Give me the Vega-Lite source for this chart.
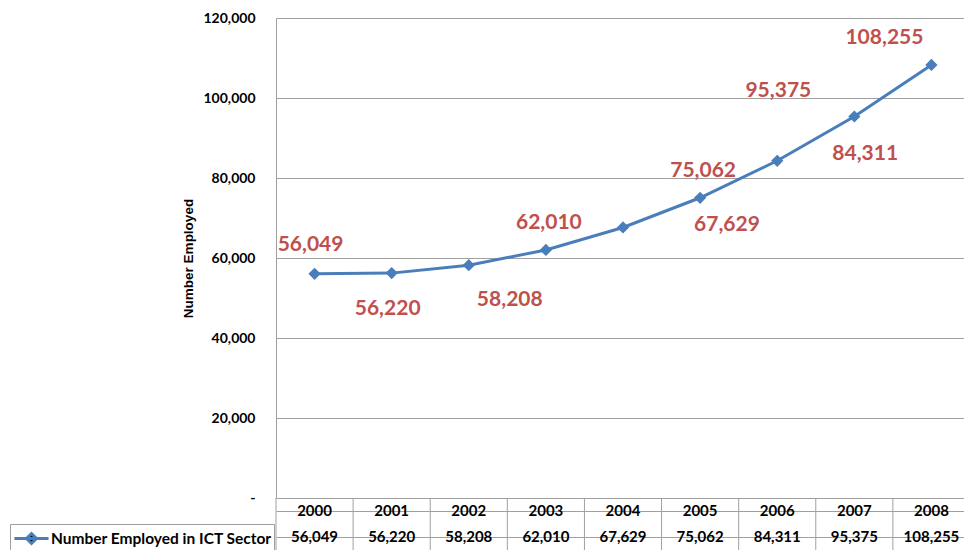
{
  "$schema": "https://vega.github.io/schema/vega-lite/v6.json",
  "background": "white",
  "padding": {"left": 9, "top": 11, "right": 0, "bottom": 0},
  "bounds": "flush",
  "datasets": {
    "ict": [
      {"year": 2000, "value": 56049},
      {"year": 2001, "value": 56220},
      {"year": 2002, "value": 58208},
      {"year": 2003, "value": 62010},
      {"year": 2004, "value": 67629},
      {"year": 2005, "value": 75062},
      {"year": 2006, "value": 84311},
      {"year": 2007, "value": 95375},
      {"year": 2008, "value": 108255}
    ]
  },
  "spacing": 0,
  "vconcat": [
    {
      "width": 694,
      "height": 480,
      "data": {"name": "ict"},
      "encoding": {
        "x": {"field": "year", "type": "ordinal", "scale": {"paddingInner": 0, "paddingOuter": 0}, "axis": null},
        "y": {
          "field": "value", "type": "quantitative",
          "scale": {"domain": [0, 120000], "nice": false},
          "axis": {
            "values": [0, 20000, 40000, 60000, 80000, 100000, 120000],
            "labelExpr": "datum.value === 0 ? '-' : format(datum.value, ',')",
            "title": "Number Employed",
            "titleFont": "Liberation Sans", "titleFontSize": 13.5, "titleFontWeight": "bold", "titleColor": "#000000", "titlePadding": 8,
            "labelFont": "Lato", "labelFontWeight": "bold", "labelFontSize": 14, "labelColor": "#000000", "labelPadding": 21,
            "ticks": false, "domain": true, "domainColor": "#a0a0a0", "grid": true, "gridColor": "#a0a0a0"
          }
        }
      },
      "layer": [
        {
          "mark": {"type": "line", "color": "#4A7EBB", "strokeWidth": 3,
                   "point": {"shape": "diamond", "size": 150, "filled": true, "color": "#4A7EBB"}}
        },
        {
          "transform": [{"filter": "datum.year === 2000"}],
          "mark": {"type": "text", "font": "Lato", "fontWeight": "bold", "fontSize": 21, "color": "#C0504D", "baseline": "middle", "dx": -4, "dy": -29},
          "encoding": {"text": {"field": "value", "type": "quantitative", "format": ","}}
        },
        {
          "transform": [{"filter": "datum.year === 2001"}],
          "mark": {"type": "text", "font": "Lato", "fontWeight": "bold", "fontSize": 21, "color": "#C0504D", "baseline": "middle", "dx": -4, "dy": 36},
          "encoding": {"text": {"field": "value", "type": "quantitative", "format": ","}}
        },
        {
          "transform": [{"filter": "datum.year === 2002"}],
          "mark": {"type": "text", "font": "Lato", "fontWeight": "bold", "fontSize": 21, "color": "#C0504D", "baseline": "middle", "dx": 41, "dy": 35},
          "encoding": {"text": {"field": "value", "type": "quantitative", "format": ","}}
        },
        {
          "transform": [{"filter": "datum.year === 2003 || datum.year === 2005"}],
          "mark": {"type": "text", "font": "Lato", "fontWeight": "bold", "fontSize": 21, "color": "#C0504D", "baseline": "middle", "dx": 3, "dy": -27},
          "encoding": {"text": {"field": "value", "type": "quantitative", "format": ","}}
        },
        {
          "transform": [{"filter": "datum.year === 2004"}],
          "mark": {"type": "text", "font": "Lato", "fontWeight": "bold", "fontSize": 21, "color": "#C0504D", "baseline": "middle", "dx": 104, "dy": -2},
          "encoding": {"text": {"field": "value", "type": "quantitative", "format": ","}}
        },
        {
          "transform": [{"filter": "datum.year === 2006"}],
          "mark": {"type": "text", "font": "Lato", "fontWeight": "bold", "fontSize": 21, "color": "#C0504D", "baseline": "middle", "dx": 88, "dy": -7},
          "encoding": {"text": {"field": "value", "type": "quantitative", "format": ","}}
        },
        {
          "transform": [{"filter": "datum.year === 2007"}],
          "mark": {"type": "text", "font": "Lato", "fontWeight": "bold", "fontSize": 21, "color": "#C0504D", "baseline": "middle", "dx": -76, "dy": -26},
          "encoding": {"text": {"field": "value", "type": "quantitative", "format": ","}}
        },
        {
          "transform": [{"filter": "datum.year === 2008"}],
          "mark": {"type": "text", "font": "Lato", "fontWeight": "bold", "fontSize": 21, "color": "#C0504D", "baseline": "middle", "dx": -47, "dy": -27},
          "encoding": {"text": {"field": "value", "type": "quantitative", "format": ","}}
        }
      ]
    },
    {
      "width": 694,
      "height": 52,
      "data": {"name": "ict"},
      "encoding": {
        "x": {"field": "year", "type": "ordinal", "scale": {"paddingInner": 0, "paddingOuter": 0}, "axis": null}
      },
      "layer": [
        {
          "mark": {"type": "rule", "color": "#a0a0a0", "strokeWidth": 1},
          "encoding": {"x": {"field": "year", "type": "ordinal", "bandPosition": 0}}
        },
        {
          "mark": {"type": "text", "font": "Lato", "fontWeight": "bold", "fontSize": 15, "color": "#000000", "baseline": "middle"},
          "encoding": {
            "y": {
              "datum": "Years", "type": "nominal",
              "scale": {"domain": ["Years", "Values"], "paddingInner": 0, "paddingOuter": 0},
              "axis": {"labels": false, "ticks": false, "domain": false, "grid": true, "gridColor": "#a0a0a0", "bandPosition": 0, "title": null}
            },
            "text": {"field": "year", "type": "ordinal"}
          }
        },
        {
          "mark": {"type": "text", "font": "Lato", "fontWeight": "bold", "fontSize": 15, "baseline": "middle"},
          "encoding": {
            "y": {"datum": "Values", "type": "nominal"},
            "text": {"field": "value", "type": "quantitative", "format": ","},
            "color": {
              "datum": "Number Employed in ICT Sector", "type": "nominal",
              "scale": {"range": ["#000000"]},
              "legend": {
                "orient": "none", "legendX": -266, "legendY": 506, "title": null,
                "padding": 2, "strokeColor": "#a0a0a0", "labelLimit": 400,
                "symbolType": "M-1.55,0H1.55M0,-0.45L0.45,0L0,0.45L-0.45,0Z",
                "symbolSize": 484, "symbolStrokeWidth": 3, "symbolOffset": 7,
                "labelFont": "Lato", "labelFontWeight": "bold", "labelFontSize": 15.5, "labelColor": "#000000", "labelOffset": 7,
                "encode": {"symbols": {"update": {"fill": {"value": "#4A7EBB"}, "stroke": {"value": "#4A7EBB"}, "strokeWidth": {"value": 3}}}}
              }
            }
          }
        }
      ]
    }
  ],
  "config": {"view": {"stroke": null}}
}
